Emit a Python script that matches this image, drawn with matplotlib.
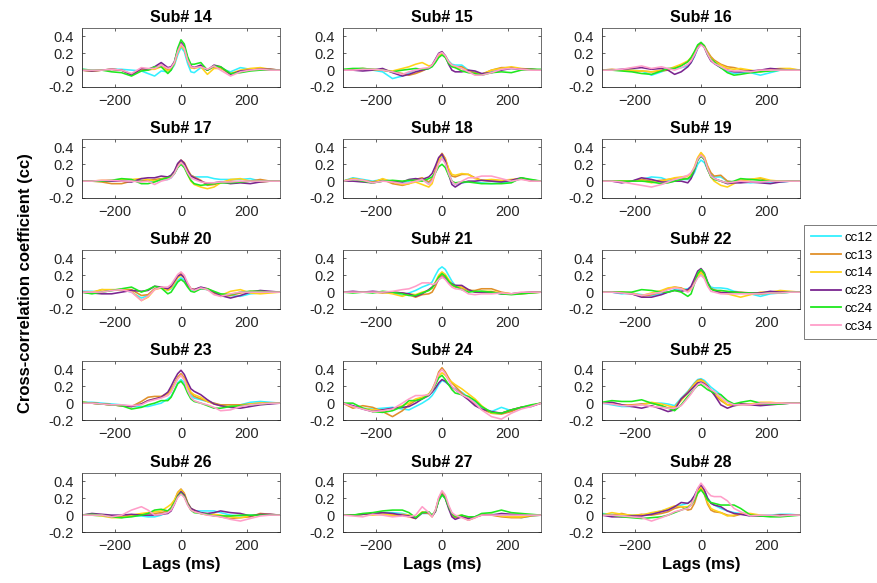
import matplotlib
matplotlib.use("Agg")
import matplotlib.pyplot as plt

plt.rcParams['font.family'] = ['Liberation Sans', 'DejaVu Sans']

# Lag axis (ms) shared by every cross-correlation trace
lags = [-300, -270, -240, -210, -180, -150, -120, -100, -80, -60, -40, -30, -20, -10,
        0, 10, 20, 30, 40, 60, 80, 100, 120, 150, 180, 210, 240, 270, 300]

pairs = ["cc12", "cc13", "cc14", "cc23", "cc24", "cc34"]
pair_colors = ["#33f0ff", "#e0902a", "#ffd21a", "#7a2590", "#1ee81e", "#ff9ec9"]

subjects = [14, 15, 16, 17, 18, 19, 20, 21, 22, 23, 24, 25, 26, 27, 28]

# Rows follow the order of `pairs`
sub14 = [
    [0.01,0.0,0.0,0.01,0.01,0.0,-0.01,-0.04,-0.07,-0.01,-0.02,0.0,0.06,0.18,0.27,0.22,0.08,-0.02,-0.03,0.03,0.0,0.04,0.02,-0.02,0.03,0.01,0.0,0.0,0.0],
    [0.0,-0.01,0.0,0.01,0.0,-0.05,0.01,0.0,0.02,0.06,0.0,0.01,0.08,0.22,0.30,0.25,0.12,0.03,0.03,0.05,0.0,0.04,0.03,-0.05,-0.01,0.01,0.02,0.01,0.0],
    [0.0,-0.01,0.0,0.01,0.0,-0.05,0.02,0.01,0.01,0.04,-0.01,0.01,0.08,0.21,0.29,0.25,0.12,0.03,0.02,0.04,-0.05,0.02,0.02,-0.04,0.0,0.02,0.03,0.01,0.0],
    [0.0,-0.01,0.0,0.01,0.0,-0.06,0.02,0.01,0.04,0.09,0.03,0.04,0.10,0.24,0.33,0.28,0.14,0.05,0.03,0.06,0.0,0.06,0.04,-0.05,-0.01,0.0,0.01,0.01,0.0],
    [0.01,0.0,0.0,-0.02,-0.03,-0.07,-0.01,0.0,0.04,0.04,-0.04,0.0,0.09,0.26,0.36,0.31,0.16,0.07,0.07,0.09,0.0,0.05,0.04,-0.04,-0.03,-0.01,0.0,0.0,0.0],
    [0.0,0.0,0.0,0.01,0.0,-0.04,0.03,0.02,0.02,0.06,0.02,0.03,0.09,0.22,0.31,0.26,0.12,0.04,0.03,0.04,0.01,0.05,0.0,-0.07,-0.02,0.0,0.01,0.0,0.0],
]
sub15 = [
    [0.0,0.0,0.01,0.0,-0.02,-0.10,-0.07,-0.03,0.0,0.0,0.02,0.05,0.10,0.17,0.20,0.17,0.11,0.07,0.06,0.06,0.0,-0.03,-0.05,-0.02,0.01,0.02,0.01,0.01,0.0],
    [0.0,0.01,0.02,0.01,0.0,-0.02,-0.04,-0.06,-0.04,-0.01,0.03,0.06,0.11,0.17,0.20,0.17,0.10,0.06,0.04,0.04,-0.01,-0.03,-0.05,0.0,0.03,0.03,0.01,0.01,0.0],
    [0.0,0.01,0.01,0.0,0.0,-0.01,0.02,0.04,0.07,0.09,0.05,0.06,0.11,0.17,0.19,0.16,0.09,0.05,0.03,0.02,-0.01,-0.05,-0.05,0.0,0.02,0.04,0.02,0.01,0.0],
    [0.0,0.0,-0.01,0.0,0.02,-0.03,-0.07,-0.05,-0.02,0.0,0.02,0.06,0.13,0.20,0.22,0.17,0.07,0.0,-0.02,-0.02,0.0,-0.01,-0.04,-0.03,0.0,0.02,0.01,0.01,0.0],
    [0.01,0.02,0.02,0.01,0.0,-0.02,0.0,0.01,0.02,0.01,0.02,0.04,0.09,0.15,0.18,0.15,0.08,0.04,0.03,-0.01,-0.03,-0.04,-0.06,-0.03,-0.02,-0.03,0.0,0.01,0.01],
    [0.0,0.0,0.01,0.01,0.0,-0.02,-0.05,-0.02,0.0,0.02,0.03,0.06,0.12,0.19,0.21,0.17,0.10,0.06,0.05,0.02,-0.02,-0.06,-0.06,-0.03,0.01,0.02,0.01,0.0,0.0],
]
sub16 = [
    [0.0,0.0,0.0,0.0,-0.01,-0.06,-0.02,0.01,0.02,0.03,0.05,0.09,0.16,0.26,0.32,0.28,0.19,0.12,0.08,0.03,-0.02,-0.04,-0.03,-0.03,-0.06,-0.03,0.0,0.0,0.0],
    [0.0,0.01,0.0,-0.01,-0.01,-0.02,-0.01,0.0,0.03,0.06,0.10,0.14,0.20,0.28,0.32,0.29,0.22,0.16,0.12,0.07,0.04,0.03,0.01,-0.02,0.0,0.01,0.01,0.01,0.0],
    [0.0,0.0,0.0,0.0,-0.01,-0.02,0.0,0.01,0.04,0.07,0.11,0.15,0.21,0.28,0.32,0.28,0.20,0.14,0.10,0.06,0.02,0.01,0.02,0.0,-0.02,0.01,0.02,0.02,0.0],
    [0.0,0.0,0.01,0.02,0.03,0.01,0.02,0.0,-0.05,-0.02,0.04,0.09,0.17,0.26,0.31,0.27,0.18,0.11,0.08,0.03,0.0,-0.02,-0.02,-0.01,0.0,0.02,0.01,0.0,0.0],
    [0.0,0.0,-0.01,-0.02,-0.04,-0.05,-0.01,0.02,0.02,0.05,0.10,0.15,0.22,0.30,0.33,0.29,0.19,0.13,0.10,0.03,-0.03,-0.06,-0.05,-0.03,-0.02,-0.01,0.0,0.0,0.0],
    [0.0,0.0,0.01,0.03,0.05,0.02,0.04,0.02,0.0,0.03,0.07,0.11,0.18,0.26,0.30,0.27,0.19,0.12,0.08,0.04,0.0,-0.01,-0.01,-0.02,0.0,0.0,0.0,0.0,0.0],
]
sub17 = [
    [0.0,0.0,0.0,0.0,0.0,0.0,0.01,0.0,0.0,0.01,0.02,0.04,0.09,0.17,0.22,0.19,0.12,0.07,0.05,0.05,0.05,0.03,0.02,0.02,0.02,0.03,0.0,0.0,0.0],
    [0.0,0.0,-0.01,-0.03,-0.03,0.0,0.0,0.01,0.02,0.03,0.04,0.06,0.11,0.20,0.25,0.22,0.14,0.07,0.05,0.01,-0.05,-0.04,-0.02,0.0,-0.01,0.0,0.02,0.0,0.0],
    [0.0,0.0,0.01,0.01,0.02,0.02,0.03,0.02,0.0,0.02,0.05,0.06,0.10,0.18,0.22,0.18,0.08,0.0,-0.04,-0.07,-0.09,-0.07,-0.02,0.02,0.03,0.0,-0.01,0.0,0.0],
    [0.0,0.0,0.0,0.0,0.0,-0.01,0.03,0.04,0.04,0.06,0.05,0.07,0.12,0.21,0.25,0.21,0.12,0.06,0.04,0.0,-0.03,-0.02,-0.01,-0.03,-0.02,-0.03,-0.01,0.0,0.0],
    [0.0,0.0,0.0,0.01,0.03,0.02,-0.03,-0.03,-0.01,0.02,0.04,0.05,0.09,0.16,0.20,0.16,0.08,0.01,-0.03,-0.05,-0.04,-0.03,-0.02,-0.02,-0.01,0.0,0.0,0.0,0.0],
    [0.0,0.0,0.01,0.01,0.0,0.0,-0.01,0.0,-0.04,0.0,0.02,0.04,0.09,0.17,0.22,0.18,0.10,0.04,0.02,-0.01,-0.02,-0.02,-0.01,-0.01,0.0,0.0,0.0,0.0,0.0],
]
sub18 = [
    [0.0,0.04,0.02,0.0,0.02,0.0,-0.02,0.0,0.02,0.02,-0.02,0.01,0.10,0.22,0.28,0.22,0.10,0.0,-0.04,-0.02,-0.01,-0.01,-0.02,-0.03,-0.02,-0.01,0.03,0.01,0.0],
    [0.0,0.03,0.01,-0.01,0.02,-0.03,-0.05,-0.03,0.02,0.04,-0.01,0.03,0.13,0.27,0.33,0.27,0.14,0.06,0.05,0.08,0.08,0.04,0.01,0.0,0.0,0.01,0.03,0.0,0.0],
    [0.0,0.03,0.01,-0.02,0.03,-0.01,-0.04,-0.03,-0.01,-0.04,-0.07,-0.03,0.10,0.24,0.31,0.26,0.15,0.08,0.07,0.09,0.08,0.03,0.01,0.02,0.01,0.02,0.03,0.01,0.0],
    [0.0,0.0,-0.01,-0.02,0.0,0.0,-0.01,0.02,0.03,0.02,0.05,0.09,0.18,0.28,0.32,0.24,0.08,-0.04,-0.07,-0.02,0.0,0.0,0.01,0.0,-0.01,0.01,0.04,0.01,0.0],
    [0.0,0.02,0.0,-0.02,0.0,0.01,0.0,0.01,0.01,0.0,0.03,0.05,0.10,0.17,0.20,0.16,0.07,0.0,-0.02,-0.01,-0.01,-0.02,-0.03,-0.03,-0.03,-0.02,0.04,0.02,0.0],
    [0.0,0.02,0.01,-0.02,0.0,-0.01,-0.03,-0.02,0.0,0.02,-0.04,0.0,0.10,0.21,0.27,0.21,0.09,0.0,-0.04,0.0,0.04,0.04,0.06,0.06,0.03,0.0,0.02,0.0,0.0],
]
sub19 = [
    [0.0,0.0,0.0,0.0,0.02,0.05,0.04,0.01,0.01,0.02,0.02,0.04,0.10,0.20,0.25,0.22,0.14,0.08,0.05,0.05,0.0,-0.01,-0.01,-0.02,-0.01,-0.01,-0.01,0.0,0.0],
    [0.0,0.0,0.0,0.0,0.02,0.0,0.01,0.02,0.03,0.04,0.03,0.06,0.15,0.27,0.33,0.29,0.18,0.10,0.06,0.07,0.0,-0.01,0.01,0.02,0.03,0.0,0.0,0.0,0.0],
    [0.0,0.0,0.0,0.0,0.01,-0.02,0.0,0.02,0.04,0.05,0.06,0.09,0.17,0.28,0.34,0.29,0.16,0.05,0.0,-0.05,-0.07,-0.03,0.01,0.02,0.04,0.01,0.0,0.0,0.0],
    [0.0,0.0,-0.02,0.0,0.04,0.02,-0.01,-0.01,0.0,0.0,-0.02,0.03,0.13,0.25,0.30,0.26,0.14,0.06,0.03,0.0,-0.03,-0.02,-0.02,-0.01,-0.02,-0.03,-0.01,0.0,0.0],
    [0.0,0.0,0.0,0.0,0.0,-0.01,-0.03,-0.02,0.0,0.02,0.03,0.06,0.14,0.25,0.30,0.26,0.14,0.05,0.02,0.0,-0.02,0.0,0.03,0.02,0.01,0.0,0.0,0.0,0.0],
    [0.0,0.0,-0.01,-0.03,-0.05,-0.07,-0.04,-0.01,0.02,0.04,0.07,0.10,0.16,0.26,0.31,0.27,0.15,0.06,0.03,0.0,-0.02,-0.01,0.0,-0.01,-0.01,0.0,0.0,0.0,0.0],
]
sub20 = [
    [0.01,0.01,0.0,0.02,0.03,0.0,-0.07,-0.04,0.04,0.05,0.02,0.04,0.09,0.14,0.17,0.14,0.08,0.03,0.02,0.04,0.03,0.0,-0.03,-0.04,-0.05,-0.02,-0.01,0.0,0.0],
    [0.0,-0.01,0.03,0.02,0.03,0.03,-0.04,-0.03,0.04,0.06,0.03,0.06,0.12,0.19,0.22,0.18,0.10,0.04,0.03,0.05,0.03,-0.01,-0.05,-0.04,-0.01,0.01,0.01,0.0,0.0],
    [0.0,0.0,0.03,0.03,0.03,0.01,-0.10,-0.06,0.03,0.05,0.02,0.05,0.11,0.17,0.20,0.17,0.09,0.04,0.03,0.05,0.04,0.0,-0.04,0.01,0.03,-0.01,-0.02,-0.01,0.0],
    [0.0,-0.01,-0.02,-0.02,0.0,0.02,0.01,0.02,0.07,0.06,0.04,0.07,0.13,0.19,0.21,0.17,0.09,0.04,0.03,0.06,0.04,0.0,-0.04,-0.07,-0.04,0.0,0.02,0.01,0.0],
    [0.0,-0.02,0.0,0.02,0.04,0.06,0.0,0.03,0.07,0.05,-0.02,0.0,0.06,0.12,0.15,0.12,0.06,0.01,0.0,0.04,0.04,0.01,-0.02,-0.03,0.0,0.01,0.01,0.0,0.0],
    [0.0,0.0,0.0,0.02,0.03,0.0,-0.10,-0.05,0.03,0.06,0.06,0.09,0.15,0.21,0.24,0.20,0.11,0.04,0.02,0.05,0.03,-0.03,-0.05,-0.02,0.0,0.0,0.0,0.0,0.0],
]
sub21 = [
    [0.0,0.0,0.0,0.0,0.0,-0.01,-0.04,-0.01,0.02,0.06,0.09,0.12,0.20,0.27,0.30,0.27,0.20,0.13,0.08,0.07,0.02,0.0,0.01,0.0,-0.02,-0.02,-0.01,0.0,0.0],
    [0.0,0.0,0.0,0.0,-0.01,0.0,-0.01,-0.03,-0.06,-0.03,-0.02,0.0,0.07,0.16,0.20,0.18,0.12,0.08,0.06,0.05,0.02,0.02,0.04,0.04,0.0,-0.02,-0.02,-0.01,0.0],
    [0.0,0.0,0.0,0.0,0.0,-0.02,-0.05,-0.02,-0.03,0.0,0.02,0.05,0.12,0.20,0.24,0.21,0.15,0.10,0.08,0.06,0.03,0.0,0.01,0.01,-0.01,-0.02,-0.01,0.0,0.0],
    [0.0,0.01,0.0,0.01,0.0,0.0,-0.01,-0.02,-0.05,-0.02,0.03,0.06,0.10,0.15,0.18,0.16,0.12,0.10,0.08,0.08,0.03,0.0,0.0,0.0,-0.02,-0.02,-0.01,0.0,0.0],
    [0.0,-0.01,0.0,-0.01,0.01,0.0,-0.02,-0.04,-0.04,-0.01,0.02,0.05,0.11,0.18,0.22,0.19,0.13,0.09,0.07,0.03,0.0,0.01,0.01,0.0,-0.02,-0.03,-0.02,-0.01,0.0],
    [0.0,0.0,0.0,0.0,0.0,0.01,0.03,0.04,0.07,0.11,0.11,0.09,0.10,0.15,0.18,0.15,0.10,0.06,0.04,0.03,-0.02,-0.03,-0.02,-0.02,-0.01,-0.02,0.0,0.0,0.0],
]
sub22 = [
    [0.0,0.0,-0.02,-0.01,-0.03,-0.04,-0.02,0.0,0.03,0.03,0.04,0.06,0.11,0.18,0.21,0.18,0.11,0.06,0.05,0.05,0.04,0.01,0.0,-0.02,-0.05,-0.02,-0.01,0.0,0.0],
    [0.0,0.0,0.0,-0.02,-0.05,-0.03,0.0,0.04,0.06,0.05,0.01,0.04,0.12,0.21,0.25,0.21,0.11,0.04,0.03,0.0,-0.01,0.0,0.0,-0.01,-0.02,-0.01,0.0,0.0,0.0],
    [0.0,0.0,0.0,-0.01,-0.04,-0.01,0.02,0.05,0.06,0.04,0.02,0.04,0.11,0.19,0.23,0.19,0.10,0.04,0.02,-0.01,-0.02,-0.04,-0.06,-0.03,0.0,0.0,0.02,0.01,0.0],
    [0.0,0.0,-0.01,-0.02,-0.06,-0.06,-0.03,0.0,0.02,0.01,0.03,0.07,0.16,0.25,0.28,0.23,0.12,0.04,0.02,-0.01,0.0,0.0,-0.01,-0.01,-0.01,0.01,0.0,0.0,0.0],
    [0.0,0.0,0.0,0.0,0.03,0.02,0.0,0.0,0.02,0.0,-0.05,-0.02,0.10,0.22,0.27,0.22,0.11,0.04,0.02,0.02,0.01,0.0,-0.01,-0.01,-0.02,-0.01,-0.01,0.0,0.0],
    [0.0,0.0,-0.01,-0.02,-0.04,-0.02,0.0,0.03,0.05,0.04,0.0,0.03,0.10,0.17,0.20,0.16,0.07,0.01,0.0,-0.02,-0.02,-0.02,-0.02,-0.02,-0.02,-0.01,-0.01,0.0,0.0],
]
sub23 = [
    [0.01,0.01,0.0,-0.01,-0.02,-0.04,-0.04,-0.04,-0.02,0.0,0.05,0.08,0.15,0.24,0.28,0.24,0.15,0.09,0.06,0.04,0.02,0.0,-0.03,-0.03,-0.02,0.01,0.02,0.01,0.0],
    [0.01,0.0,-0.01,-0.02,-0.03,-0.04,0.02,0.07,0.08,0.08,0.12,0.16,0.23,0.31,0.35,0.30,0.20,0.12,0.08,0.05,0.02,0.0,-0.02,-0.02,-0.02,-0.01,0.0,0.0,0.0],
    [0.01,0.0,-0.01,-0.02,-0.03,-0.04,-0.01,0.03,0.05,0.07,0.11,0.15,0.22,0.29,0.33,0.29,0.20,0.13,0.10,0.07,0.02,-0.01,-0.03,-0.04,-0.03,-0.01,0.0,0.0,0.0],
    [0.0,0.0,-0.01,-0.02,-0.03,-0.04,-0.01,0.03,0.05,0.07,0.13,0.20,0.28,0.35,0.39,0.34,0.25,0.17,0.14,0.10,0.04,-0.01,-0.03,-0.05,-0.06,-0.04,-0.02,-0.01,0.0],
    [0.01,0.0,-0.01,-0.02,-0.03,-0.07,-0.05,-0.02,0.0,0.03,0.03,0.07,0.15,0.23,0.26,0.21,0.12,0.05,0.02,0.0,-0.03,-0.06,-0.06,-0.04,-0.03,-0.02,-0.01,0.0,0.0],
    [0.0,0.0,-0.01,-0.02,-0.02,-0.03,-0.02,0.02,0.04,0.06,0.09,0.13,0.21,0.29,0.33,0.27,0.15,0.07,0.03,0.0,-0.02,-0.05,-0.09,-0.08,-0.04,-0.02,-0.01,0.0,0.0],
]
sub24 = [
    [0.0,-0.04,-0.06,-0.07,-0.06,-0.05,-0.07,-0.08,-0.04,0.0,0.05,0.09,0.15,0.22,0.27,0.25,0.22,0.19,0.17,0.13,0.07,0.02,-0.05,-0.10,-0.05,-0.09,-0.05,-0.03,0.0],
    [0.0,-0.06,-0.03,-0.05,-0.10,-0.16,-0.09,-0.02,0.03,0.06,0.10,0.16,0.25,0.37,0.42,0.37,0.30,0.24,0.20,0.12,0.05,-0.01,-0.07,-0.12,-0.13,-0.10,-0.05,-0.03,0.0],
    [0.0,-0.04,-0.06,-0.08,-0.08,-0.07,-0.03,0.0,0.05,0.07,0.11,0.16,0.23,0.32,0.36,0.33,0.28,0.25,0.22,0.17,0.11,0.05,-0.03,-0.12,-0.12,-0.08,-0.05,-0.03,0.0],
    [0.0,-0.03,-0.07,-0.10,-0.08,-0.06,-0.05,-0.04,0.0,0.05,0.09,0.13,0.18,0.24,0.28,0.26,0.22,0.19,0.16,0.10,0.04,-0.03,-0.07,-0.10,-0.12,-0.08,-0.05,-0.04,0.0],
    [0.0,0.0,-0.06,-0.10,-0.11,-0.09,-0.04,0.03,0.03,0.05,0.10,0.15,0.22,0.30,0.33,0.28,0.22,0.16,0.12,0.10,0.08,0.03,-0.04,-0.11,-0.12,-0.08,-0.05,-0.02,0.0],
    [0.0,-0.04,-0.07,-0.10,-0.09,-0.07,0.0,0.05,0.09,0.09,0.10,0.15,0.24,0.35,0.40,0.35,0.27,0.20,0.16,0.10,0.06,0.0,-0.08,-0.16,-0.19,-0.12,-0.07,-0.04,0.0],
]
sub25 = [
    [0.0,-0.02,-0.04,-0.04,-0.01,0.0,0.0,-0.01,-0.03,0.06,0.14,0.19,0.24,0.28,0.29,0.27,0.23,0.19,0.16,0.10,0.02,-0.03,-0.02,-0.01,-0.01,0.0,0.0,0.0,0.0],
    [0.0,0.0,-0.02,-0.02,-0.01,0.0,-0.03,-0.06,-0.05,0.05,0.13,0.18,0.23,0.27,0.28,0.25,0.20,0.15,0.10,0.03,-0.02,-0.02,-0.01,-0.02,-0.01,0.0,0.0,0.0,0.0],
    [0.0,0.0,-0.02,-0.03,-0.02,0.01,-0.01,-0.03,-0.05,0.03,0.12,0.17,0.22,0.26,0.27,0.25,0.20,0.16,0.12,0.05,-0.02,-0.03,-0.02,-0.01,0.01,0.01,0.0,0.0,0.0],
    [0.0,0.01,-0.02,-0.04,-0.06,-0.03,-0.07,-0.10,-0.08,0.05,0.12,0.16,0.20,0.24,0.25,0.23,0.20,0.15,0.10,-0.02,-0.06,-0.03,-0.01,-0.02,-0.03,-0.02,-0.01,0.0,0.0],
    [0.01,0.03,0.02,0.02,0.04,0.0,-0.03,-0.06,-0.09,-0.02,0.08,0.12,0.17,0.21,0.22,0.19,0.16,0.14,0.12,0.10,0.03,-0.01,0.01,0.03,0.0,-0.01,-0.01,0.0,0.0],
    [0.0,-0.01,-0.03,-0.03,-0.02,-0.04,-0.05,-0.06,-0.06,-0.03,0.06,0.11,0.17,0.22,0.24,0.22,0.19,0.16,0.14,0.07,0.01,-0.02,-0.02,-0.02,0.0,0.0,0.0,0.0,0.0],
]
sub26 = [
    [0.0,0.0,-0.01,-0.02,-0.03,-0.01,-0.01,-0.02,-0.02,0.0,0.04,0.07,0.14,0.23,0.27,0.23,0.14,0.08,0.05,0.05,0.05,0.05,0.03,0.0,-0.01,0.0,0.0,0.0,0.0],
    [0.0,0.01,0.0,-0.01,-0.02,0.0,0.01,0.02,0.02,0.03,0.05,0.09,0.17,0.27,0.31,0.26,0.15,0.08,0.06,0.02,0.01,0.0,-0.02,-0.04,-0.03,-0.02,0.02,0.01,0.0],
    [0.0,0.0,-0.01,-0.03,-0.03,0.0,0.02,0.03,0.04,0.05,0.10,0.13,0.18,0.26,0.30,0.25,0.14,0.07,0.05,0.02,0.0,0.01,0.0,-0.02,-0.03,-0.01,0.0,0.0,0.0],
    [0.0,0.02,0.01,0.0,0.0,0.01,0.0,0.0,0.0,0.01,0.02,0.05,0.13,0.23,0.28,0.24,0.14,0.08,0.06,0.03,0.02,0.03,0.05,0.03,0.02,-0.01,0.01,0.01,0.0],
    [0.0,0.01,0.0,-0.02,-0.03,-0.02,0.0,0.02,0.06,0.07,0.05,0.08,0.15,0.22,0.26,0.22,0.13,0.06,0.03,0.02,0.01,-0.01,-0.01,-0.01,0.0,0.0,0.0,0.0,0.0],
    [0.0,0.0,0.0,-0.02,0.0,0.06,0.10,0.06,0.0,0.01,0.03,0.06,0.13,0.21,0.25,0.21,0.12,0.06,0.04,0.02,0.0,-0.01,-0.02,-0.05,-0.07,-0.04,-0.01,0.0,0.0],
]
sub27 = [
    [0.0,0.0,0.01,0.02,0.03,0.03,0.02,0.0,-0.03,0.02,0.02,-0.01,0.05,0.18,0.24,0.20,0.10,0.02,-0.02,0.0,-0.03,-0.02,0.01,0.01,0.0,0.0,-0.03,-0.01,0.0],
    [0.0,0.0,0.01,0.02,0.01,0.0,0.0,-0.02,-0.04,0.03,0.02,-0.02,0.05,0.20,0.27,0.22,0.10,0.0,-0.03,-0.02,-0.06,-0.03,0.01,0.0,-0.02,-0.03,-0.03,-0.01,0.0],
    [0.0,0.0,0.01,0.0,0.01,0.0,0.01,0.0,-0.03,0.04,0.02,-0.01,0.05,0.19,0.26,0.21,0.10,0.02,-0.01,0.0,-0.04,-0.02,0.0,0.01,-0.01,-0.02,-0.02,0.0,0.0],
    [0.0,0.0,0.01,0.02,0.03,0.02,0.0,-0.01,-0.04,0.03,0.03,-0.01,0.04,0.18,0.25,0.20,0.08,-0.02,-0.05,-0.02,-0.04,-0.02,0.0,0.0,0.02,0.01,0.01,0.0,0.0],
    [0.0,0.0,0.02,0.03,0.05,0.06,0.06,0.03,-0.03,0.03,0.04,0.0,0.05,0.17,0.24,0.20,0.10,0.02,-0.02,0.0,-0.02,-0.02,0.02,0.03,0.06,0.03,0.02,0.01,0.0],
    [0.0,-0.01,-0.02,0.01,0.0,-0.02,-0.01,-0.02,0.0,0.10,0.03,-0.02,0.06,0.21,0.29,0.24,0.12,0.03,0.0,-0.03,-0.06,-0.03,0.0,0.0,0.0,0.0,0.0,0.0,0.0],
]
sub28 = [
    [0.02,0.01,0.0,0.0,0.0,0.02,0.05,0.07,0.10,0.12,0.14,0.17,0.22,0.30,0.35,0.29,0.20,0.15,0.12,0.08,0.05,0.03,0.02,-0.01,0.0,0.0,0.01,0.01,0.0],
    [0.0,0.0,0.02,-0.01,0.01,0.0,0.02,0.04,0.08,0.10,0.06,0.07,0.14,0.26,0.32,0.25,0.13,0.06,0.04,0.03,0.0,-0.01,0.01,0.01,-0.01,-0.01,0.0,0.0,0.0],
    [0.0,0.03,0.01,0.0,0.0,0.03,0.05,0.08,0.11,0.10,0.10,0.13,0.20,0.29,0.34,0.27,0.15,0.08,0.06,0.03,-0.01,0.0,0.02,0.02,0.0,-0.01,0.0,0.0,0.0],
    [0.0,-0.02,-0.02,-0.01,-0.01,0.01,0.04,0.06,0.10,0.15,0.14,0.17,0.23,0.31,0.36,0.30,0.20,0.14,0.12,0.10,0.05,0.02,0.01,-0.01,-0.01,-0.01,0.0,0.0,0.0],
    [0.01,0.0,-0.02,-0.03,-0.04,-0.03,-0.02,0.0,0.03,0.06,0.09,0.12,0.18,0.26,0.30,0.25,0.18,0.15,0.14,0.12,0.12,0.12,0.08,0.0,-0.01,-0.02,-0.02,-0.01,0.0],
    [0.0,0.0,-0.01,-0.02,-0.03,-0.07,-0.03,0.0,0.04,0.06,0.08,0.12,0.20,0.32,0.38,0.33,0.27,0.23,0.22,0.22,0.17,0.08,0.04,-0.01,0.0,0.0,-0.01,0.0,0.0],
]

series_by_subject = [sub14, sub15, sub16, sub17, sub18, sub19, sub20, sub21,
                     sub22, sub23, sub24, sub25, sub26, sub27, sub28]

xticks = [-200, 0, 200]
yticks = [-0.2, 0, 0.2, 0.4]
ytick_labels = ["-0.2", "0", "0.2", "0.4"]

W, H = 877, 583
fig = plt.figure(figsize=(W / 100, H / 100), dpi=100)
fig.patch.set_facecolor("white")

col_left = [82, 343, 602]
row_top = [28, 139, 250, 361, 473]
ax_w, ax_h = 198, 59
axis_color = "#262626"

handles = None
for k, (subj, curves) in enumerate(zip(subjects, series_by_subject)):
    r, c = divmod(k, 3)
    ax = fig.add_axes([col_left[c] / W, 1 - (row_top[r] + ax_h) / H, ax_w / W, ax_h / H])
    lines = []
    for vals, col, name in zip(curves, pair_colors, pairs):
        ln, = ax.plot(lags, vals, color=col, lw=1.15, label=name, solid_joinstyle="round")
        lines.append(ln)
    if handles is None:
        handles = lines
    ax.set_xlim(-300, 300)
    ax.set_ylim(-0.2, 0.5)
    ax.set_xticks(xticks)
    ax.set_yticks(yticks)
    ax.set_yticklabels(ytick_labels)
    ax.tick_params(direction="in", length=2.5, width=0.5, labelsize=10.5,
                   colors=axis_color, top=True, right=True,
                   labeltop=False, labelright=False)
    ax.tick_params(axis="y", pad=6)
    ax.tick_params(axis="x", pad=5)
    for sp in ax.spines.values():
        sp.set_color("#555555")
        sp.set_linewidth(0.6)
    ax.spines["left"].set_color(axis_color)
    ax.spines["bottom"].set_color(axis_color)
    ax.set_title(f"Sub# {subj}", fontsize=11.5, fontweight="bold", pad=4)
    if r == 4:
        ax.set_xlabel("Lags (ms)", fontsize=12, fontweight="bold", labelpad=3)

fig.text(26 / W, 1 - 283 / H, "Cross-correlation coefficient (cc)", rotation=90,
         fontsize=12, fontweight="bold", ha="center", va="center")

leg = fig.legend(handles, pairs, loc="upper left", bbox_to_anchor=(804 / W, 1 - 225 / H),
                 bbox_transform=fig.transFigure, fontsize=9.5, frameon=True,
                 fancybox=False, framealpha=1, edgecolor="#666666",
                 handlelength=2.3, handletextpad=0.3, labelspacing=0.42,
                 borderpad=0.5, borderaxespad=0)
leg.get_frame().set_linewidth(0.6)
for ln in leg.get_lines():
    ln.set_linewidth(1.3)

fig.savefig("out.png", dpi=100)
